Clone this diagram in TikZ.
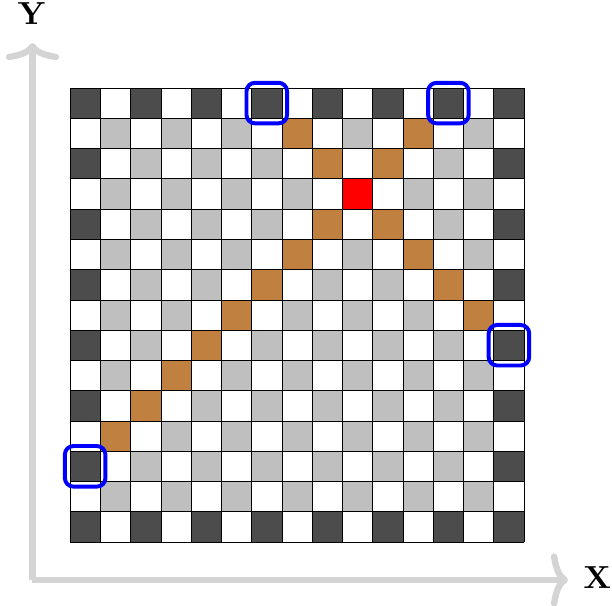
\documentclass[tikz,border=0pt]{standalone}
\usepackage{xcolor}
\usepackage{tikz}
\usetikzlibrary{arrows.meta}

\begin{document}
\begin{tikzpicture}[x=1cm, y=1cm,
    every node/.style={scale=3, font=\bfseries, inner sep=0pt},
    axis/.style={line width=6pt, black!17, -{To[length=16pt, width=50pt, round]}},
    target/.style={draw=blue, line width=3.7pt, rounded corners=8pt}]
    \useasboundingbox (-2.313,-2.114) rectangle (17.905,17.905);

    % Axes
    \coordinate (origin) at (-1.24,-1.255);
    \coordinate (xend) at (16.45,-1.255);
    \coordinate (yend) at (-1.24,16.48);
    \draw[axis] (origin) -- (xend);
    \draw[axis] (origin) -- (yend);
    \node (xlabel) at (17.42,-1.19) {X};
    \node (ylabel) at (-1.27,17.46) {Y};

    % Checkerboard (rows counted from the top)
    \foreach \c in {0,...,14}
      \foreach \r in {0,...,14} {
        \pgfmathtruncatemacro{\s}{\c+\r}
        \ifodd\s\else
          \fill[black!25] (\c,14-\r) rectangle ++(1,1);
        \fi
      }

    % Border squares
    \foreach \k in {0,2,...,14} {
      \fill[black!70] (\k,14) rectangle ++(1,1);
      \fill[black!70] (\k,0) rectangle ++(1,1);
      \fill[black!70] (0,\k) rectangle ++(1,1);
      \fill[black!70] (14,\k) rectangle ++(1,1);
    }

    % Diagonals
    \foreach \c/\r in {7/1,11/1,8/2,10/2,8/4,10/4,7/5,11/5,6/6,12/6,5/7,13/7,4/8,3/9,2/10,1/11}
      \fill[brown] (\c,14-\r) rectangle ++(1,1);
    \fill[red] (9,11) rectangle ++(1,1);

    % Grid lines
    \draw[line width=0.6pt] (0,0) grid (15,15);

    % Marked squares
    \foreach \c/\r in {6/0,12/0,14/8,0/12}
      \draw[target] (\c-0.17,14-\r-0.17) rectangle ++(1.34,1.34);
\end{tikzpicture}
\end{document}
